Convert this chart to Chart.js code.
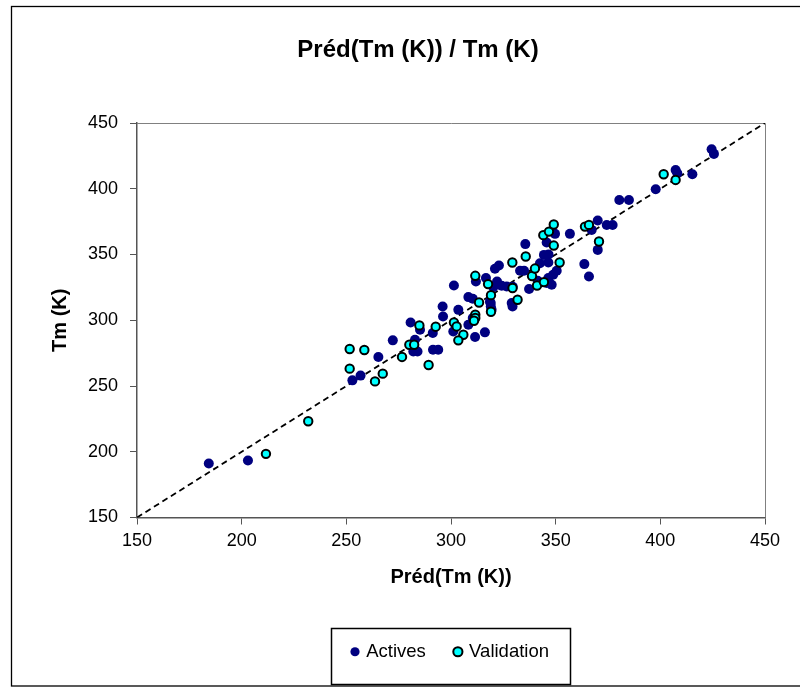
<!DOCTYPE html>
<html>
<head>
<meta charset="utf-8">
<title>Préd(Tm (K)) / Tm (K)</title>
<script src="https://cdn.jsdelivr.net/npm/chart.js@4"></script>
<style>
  html, body { margin: 0; padding: 0; background: #fff; }
  canvas { display: block; }
</style>
</head>
<body>
<canvas id="tm-chart" width="800" height="688"></canvas>
<script>
const FONT = "'Liberation Sans', Arial, sans-serif";

const chartTitle = 'Préd(Tm (K)) / Tm (K)';
const xTitle = 'Préd(Tm (K))';
const yTitle = 'Tm (K)';
const seriesNames = ['Actives', 'Validation'];

// training set: predicted vs. measured melting point (K)
const activesPred = [184.3, 203.0, 252.9, 256.8, 265.3, 272.2, 280.7, 282.8, 282.0, 284.0,
  285.2, 291.3, 291.4, 293.9, 296.0, 296.2, 301.4, 301.1, 303.5, 308.3,
  310.4, 308.3, 310.4, 311.5, 316.2, 311.9, 316.7, 318.6, 319.0, 319.0,
  319.4, 320.2, 322.0, 324.2, 326.6, 329.5, 329.0, 329.4, 321.0, 322.9,
  333.0, 334.9, 335.5, 337.3, 341.4, 342.5, 344.4, 346.6, 345.7, 346.5,
  348.8, 346.5, 348.1, 345.7, 350.5, 349.7, 356.8, 363.7, 365.9, 367.2,
  370.1, 370.1, 374.4, 377.2, 380.4, 385.0, 397.8, 407.3, 408.1, 415.3,
  424.5, 425.6];
const activesTm = [191.0, 193.3, 254.3, 257.9, 272.1, 284.7, 298.3, 285.2, 276.3, 276.3,
  292.8, 290.3, 277.6, 277.6, 310.5, 302.9, 326.4, 291.5, 307.9, 317.6,
  316.3, 296.6, 301.7, 287.3, 290.8, 329.4, 332.1, 314.0, 313.1, 310.5,
  307.9, 325.2, 329.4, 326.2, 325.7, 325.5, 313.1, 310.5, 339.1, 341.6,
  337.6, 337.6, 357.9, 323.7, 330.0, 343.4, 349.7, 350.0, 359.1, 343.9,
  334.6, 332.1, 327.0, 328.3, 337.6, 365.7, 365.7, 342.7, 333.3, 368.7,
  375.8, 353.5, 372.5, 372.5, 391.5, 391.5, 399.6, 414.3, 411.8, 411.0,
  430.0, 426.5];

// external validation set
const validationPred = [211.6, 231.8, 251.6, 258.6, 251.6, 267.4, 263.7, 276.6, 280.1, 282.4,
  289.3, 284.9, 292.7, 301.4, 302.7, 305.9, 303.5, 311.6, 311.6, 311.0,
  313.4, 319.1, 319.1, 311.6, 317.7, 329.4, 331.8, 329.3, 335.7, 338.7,
  340.1, 341.1, 344.4, 349.1, 351.9, 344.1, 346.8, 349.1, 364.0, 365.9,
  370.7, 401.6, 407.3];
const validationTm = [198.4, 223.2, 278.1, 277.4, 263.2, 259.4, 253.5, 272.1, 281.4, 281.4,
  266.0, 296.1, 295.1, 298.3, 295.3, 289.0, 284.7, 304.2, 301.7, 299.6,
  313.5, 306.5, 319.1, 333.8, 327.5, 324.5, 315.6, 343.9, 348.5, 333.6,
  339.3, 326.4, 329.0, 356.8, 343.9, 364.7, 367.4, 372.8, 371.2, 372.5,
  359.9, 411.0, 406.7];

// both axes share the same range; the dashed y = x line spans it
const axisRange = [150, 450];
const tickStep = 50;

const toPoints = (xs, ys) => xs.map((x, i) => ({ x, y: ys[i] }));

// frame, title, plot border and legend box
const chartDecor = {
  id: 'chartDecor',
  beforeDatasetsDraw(chart) {
    const { ctx, chartArea: a } = chart;
    ctx.save();
    ctx.strokeStyle = '#808080';
    ctx.lineWidth = 1;
    ctx.beginPath();
    ctx.moveTo(a.left, a.top + 0.5);
    ctx.lineTo(a.right + 0.5, a.top + 0.5);
    ctx.lineTo(a.right + 0.5, a.bottom);
    ctx.stroke();
    ctx.restore();
  },
  afterDraw(chart) {
    const { ctx } = chart;
    ctx.save();
    ctx.strokeStyle = '#000';
    ctx.lineWidth = 1.3;
    ctx.strokeRect(11.5, 6.5, 840, 679.5);

    ctx.fillStyle = '#000';
    ctx.font = `bold 24px ${FONT}`;
    ctx.textAlign = 'center';
    ctx.textBaseline = 'middle';
    ctx.fillText(chartTitle, 418, 50);

    const boxes = chart.legend.legendHitBoxes;
    if (boxes && boxes.length) {
      const left = Math.min(...boxes.map(b => b.left)) - 22;
      const right = Math.max(...boxes.map(b => b.left + b.width)) + 21;
      const top = boxes[0].top - 15;
      const bottom = boxes[0].top + boxes[0].height + 22;
      ctx.lineWidth = 1.5;
      ctx.strokeRect(Math.round(left) + 0.5, Math.round(top) + 0.5,
        Math.round(right - left), Math.round(bottom - top));
    }
    ctx.restore();
  }
};

const tickFont = { size: 18, family: FONT };
const legendFont = { size: 18.5, family: FONT };
const titleFont = { size: 20, weight: 'bold', family: FONT };

new Chart(document.getElementById('tm-chart'), {
  type: 'scatter',
  data: {
    datasets: [
      {
        label: seriesNames[0],
        data: toPoints(activesPred, activesTm),
        backgroundColor: '#000080', borderColor: '#000080', borderWidth: 0,
        pointRadius: 5, pointHoverRadius: 5,
        order: 2,
      },
      {
        label: seriesNames[1],
        data: toPoints(validationPred, validationTm),
        backgroundColor: '#00FFFF', borderColor: '#000000', borderWidth: 2,
        pointRadius: 4.2, pointHoverRadius: 4.2,
        order: 1,
      },
      {
        label: 'y = x',
        data: toPoints(axisRange, axisRange),
        showLine: true,
        borderColor: '#000', borderWidth: 1.8, borderDash: [6, 4],
        pointRadius: 0, pointHoverRadius: 0,
        order: 3,
      },
    ]
  },
  options: {
    responsive: false,
    animation: false,
    devicePixelRatio: 1,
    layout: { padding: { left: 20, right: 35, top: 123, bottom: 17 } },
    scales: {
      x: {
        type: 'linear', min: axisRange[0], max: axisRange[1],
        ticks: { stepSize: tickStep, color: '#000', font: tickFont, padding: 6, maxRotation: 0 },
        grid: { drawOnChartArea: false, tickLength: 7, color: '#555' },
        border: { color: '#555', width: 1.5 },
        title: { display: true, text: xTitle, color: '#000', font: titleFont, padding: { top: 0, bottom: 23 } },
        afterFit: s => { s.height = 95; },
      },
      y: {
        type: 'linear', min: axisRange[0], max: axisRange[1],
        ticks: { stepSize: tickStep, color: '#000', font: tickFont, padding: 12 },
        grid: { drawOnChartArea: false, tickLength: 7, color: '#555' },
        border: { color: '#555', width: 1.5 },
        title: { display: true, text: yTitle, color: '#000', font: titleFont, padding: { top: 28, bottom: 0 } },
        afterFit: s => { s.width = 117; },
      },
    },
    plugins: {
      title: { display: false },
      tooltip: { enabled: false },
      legend: {
        position: 'bottom',
        fullSize: false,
        labels: {
          usePointStyle: true, pointStyle: 'circle',
          boxWidth: 4, boxHeight: 6.5, padding: 30,
          color: '#000', font: legendFont,
          filter: item => item.datasetIndex < 2,
          sort: (a, b) => a.datasetIndex - b.datasetIndex,
        }
      }
    }
  },
  plugins: [chartDecor]
});
</script>
</body>
</html>
